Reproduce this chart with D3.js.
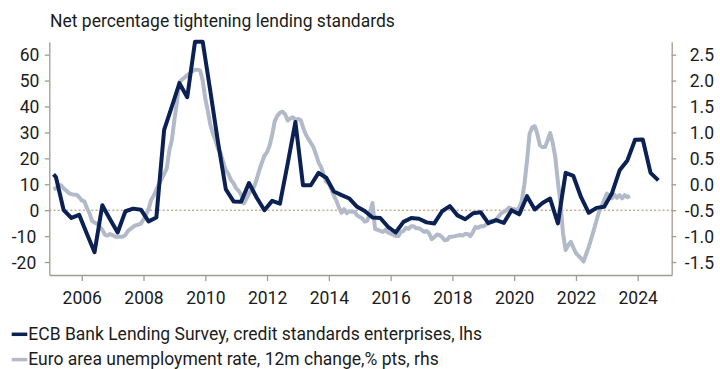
<!DOCTYPE html>
<html>
<head>
<meta charset="utf-8">
<script src="https://cdn.jsdelivr.net/npm/d3@7"></script>
<style>
  html, body { margin: 0; padding: 0; background: #ffffff; }
  svg { display: block; font-family: Roboto, "Liberation Sans", Arial, sans-serif; }
</style>
</head>
<body>
<svg id="chart" width="720" height="369"></svg>
<script>
// ---- data -------------------------------------------------------------
const subtitle = "Net percentage tightening lending standards";

// ECB Bank Lending Survey, credit standards for enterprises (net %, quarterly)
const blsMonths = [
  "2005-02","2005-03","2005-06","2005-09","2005-12",
  "2006-03","2006-06","2006-09","2006-12",
  "2007-03","2007-06","2007-09","2007-12",
  "2008-03","2008-06","2008-09","2008-12",
  "2009-03","2009-06","2009-09","2009-12",
  "2010-03","2010-06","2010-09","2010-12",
  "2011-03","2011-06","2011-09","2011-12",
  "2012-03","2012-06","2012-09","2012-12",
  "2013-03","2013-06","2013-09","2013-12",
  "2014-03","2014-06","2014-09","2014-12",
  "2015-03","2015-06","2015-09","2015-12",
  "2016-03","2016-06","2016-09","2016-12",
  "2017-03","2017-06","2017-09","2017-12",
  "2018-03","2018-06","2018-09","2018-12",
  "2019-03","2019-06","2019-09","2019-12",
  "2020-03","2020-06","2020-09","2020-12",
  "2021-03","2021-06","2021-09","2021-12",
  "2022-03","2022-06","2022-09","2022-12",
  "2023-03","2023-06","2023-09","2023-12",
  "2024-03","2024-06","2024-09"
];
const blsValues = [
  13.8, 12.8, 0, -3, -1.8,
  -9, -16.2, 1.9, -3.5,
  -8.6, -0.4, 0.6, 0.2,
  -4.3, -2.8, 31, 40,
  49, 43.6, 65, 65,
  46, 26, 8, 3.4,
  3.3, 10.5, 4.8, 0,
  3.6, 2.5, 18, 34,
  9.6, 9.6, 14.4, 12.5,
  7.2, 5.8, 4.5, 1.3,
  -0.3, -2.8, -3, -6.4,
  -8.6, -4.5, -3, -3.3,
  -4.7, -5.1, -0.4, 1.6,
  -2, -3.5, -1.2, -0.8,
  -5, -3.8, -4.9, 0,
  -1.6, 5.4, 0.3, 2.8,
  4.5, -5.1, 14.4, 13.2,
  5.1, -1, 0.9, 1.3,
  6.4, 15.4, 19.2, 27.2,
  27.3, 14.4, 11.5
];

// Euro area unemployment rate, 12-month change in % points (monthly, from Feb 2005)
const unempStartMonth = "2005-02";
const unempValues = [
  /* 2005 */ -0.10, -0.08, -0.03, -0.02, -0.08, -0.12, -0.17, -0.19, -0.20, -0.20, -0.25,
  /* 2006 */ -0.31, -0.33, -0.45, -0.55, -0.70, -0.74, -0.76, -0.82, -0.88, -0.97, -0.99, -0.96,
  /* 2007 */ -0.98, -1.01, -1.01, -1.01, -1.01, -0.98, -0.90, -0.86, -0.82, -0.79, -0.78, -0.76,
  /* 2008 */ -0.68, -0.58, -0.48, -0.30, -0.22, -0.10, 0.00, 0.10, 0.20, 0.30, 0.65, 0.85,
  /* 2009 */ 1.25, 1.60, 1.97, 2.02, 2.06, 2.10, 2.14, 2.18, 2.21, 2.21, 2.19, 2.00,
  /* 2010 */ 1.65, 1.40, 1.15, 0.98, 0.85, 0.68, 0.60, 0.42, 0.27, 0.20, 0.08, 0.02,
  /* 2011 */ -0.08, -0.13, -0.20, -0.37, -0.28, -0.18, -0.10, -0.05, 0.10, 0.27, 0.42, 0.55,
  /* 2012 */ 0.62, 0.75, 0.95, 1.22, 1.32, 1.38, 1.40, 1.35, 1.23, 1.27, 1.29, 1.24,
  /* 2013 */ 1.26, 1.24, 1.10, 0.97, 0.88, 0.80, 0.72, 0.58, 0.42, 0.33, 0.18, 0.05,
  /* 2014 */ 0.01, -0.10, -0.22, -0.32, -0.45, -0.55, -0.48, -0.56, -0.52, -0.53, -0.53, -0.60,
  /* 2015 */ -0.63, -0.66, -0.72, -0.70, -0.55, -0.36, -0.86, -0.88, -0.90, -0.92, -0.88, -0.93,
  /* 2016 */ -0.95, -0.97, -1.00, -1.00, -0.92, -0.90, -0.84, -0.86, -0.81, -0.81, -0.85, -0.85,
  /* 2017 */ -0.88, -0.92, -0.90, -0.95, -1.06, -1.02, -0.97, -0.98, -1.02, -1.08, -1.07, -1.01,
  /* 2018 */ -1.01, -1.00, -0.99, -0.98, -0.99, -0.96, -0.96, -1.00, -0.92, -0.82, -0.84, -0.81,
  /* 2019 */ -0.81, -0.78, -0.74, -0.71, -0.72, -0.68, -0.62, -0.56, -0.53, -0.50, -0.45, -0.47,
  /* 2020 */ -0.48, -0.50, -0.45, -0.31, 0.00, 0.45, 0.97, 1.10, 1.12, 0.97, 0.75, 0.72,
  /* 2021 */ 0.72, 0.85, 0.99, 0.80, 0.53, 0.05, -0.35, -0.95, -1.27, -1.18, -1.11, -1.22,
  /* 2022 */ -1.33, -1.38, -1.43, -1.49, -1.35, -1.21, -1.05, -0.88, -0.70, -0.53, -0.42, -0.30,
  /* 2023 */ -0.18, -0.22, -0.27, -0.20, -0.26, -0.21, -0.27, -0.21, -0.25, -0.22
];

const leftTicks  = [60, 50, 40, 30, 20, 10, 0, -10, -20];
const rightTicks = [2.5, 2.0, 1.5, 1.0, 0.5, 0.0, -0.5, -1.0, -1.5];
const yearTicks  = [2006, 2008, 2010, 2012, 2014, 2016, 2018, 2020, 2022, 2024];

const legendLabels = [
  "ECB Bank Lending Survey, credit standards enterprises, lhs",
  "Euro area unemployment rate, 12m change,% pts, rhs"
];

// ---- styling ----------------------------------------------------------
const NAVY = "#0b2154";
const GREY = "#b2bac9";
const AXIS = "#a39b90";
const TEXT = "#1c1c1c";
const FONT_SIZE = 17.5;

// ---- scales -----------------------------------------------------------
const parseMonth = d3.timeParse("%Y-%m");
const plot = { left: 49.3, right: 671.7, top: 41.7, bottom: 275 };

const x = d3.scaleTime()
  .domain([new Date(2004, 11, 13), new Date(2025, 1, 6)])
  .range([plot.left, plot.right]);
const yLeft = d3.scaleLinear().domain([-25, 65]).range([plot.bottom, plot.top]);
const yRight = d3.scaleLinear().domain([-1.75, 2.75]).range([plot.bottom, plot.top]);

const blsSeries = blsMonths.map((m, i) => ({ date: parseMonth(m), value: blsValues[i] }));
const unempStart = parseMonth(unempStartMonth);
const unempSeries = unempValues.map((v, i) => ({ date: d3.timeMonth.offset(unempStart, i), value: v }));

const svg = d3.select("#chart");
svg.append("rect").attr("width", 720).attr("height", 369).attr("fill", "#ffffff");

// subtitle
svg.append("text")
  .attr("x", 50).attr("y", 27.3)
  .attr("font-size", FONT_SIZE).attr("fill", TEXT)
  .text(subtitle);

// zero reference line (left-axis 0)
svg.append("line")
  .attr("x1", plot.left).attr("x2", plot.right)
  .attr("y1", yLeft(0)).attr("y2", yLeft(0))
  .attr("stroke", "#a7865f").attr("stroke-width", 1)
  .attr("stroke-dasharray", "2,2.2");

// ---- axes -------------------------------------------------------------
function styleAxis(g) {
  g.selectAll(".domain").attr("stroke", AXIS).attr("stroke-width", 1.3);
  g.selectAll(".tick line").attr("stroke", AXIS).attr("stroke-width", 1.3);
  g.selectAll(".tick text").attr("fill", TEXT).attr("font-size", FONT_SIZE)
    .attr("font-family", "Roboto, 'Liberation Sans', Arial, sans-serif");
}

const gLeft = svg.append("g")
  .attr("transform", `translate(${plot.left},0)`)
  .call(d3.axisLeft(yLeft).tickValues(leftTicks).tickSize(4.5).tickSizeOuter(0)
    .tickFormat(d => String(d)))
  .call(styleAxis);
gLeft.selectAll(".tick text")
  .attr("x", d => d < 0 ? -13 : -10).attr("dy", "0.36em");

const gRight = svg.append("g")
  .attr("transform", `translate(${plot.right},0)`)
  .call(d3.axisRight(yRight).tickValues(rightTicks).tickSize(4.5).tickSizeOuter(0)
    .tickFormat(d => d.toFixed(1)))
  .call(styleAxis);
gRight.selectAll(".tick text")
  .attr("text-anchor", "end").attr("x", 714 - plot.right).attr("dy", "0.36em");

const gBottom = svg.append("g")
  .attr("transform", `translate(0,${plot.bottom})`)
  .call(d3.axisBottom(x).tickValues(yearTicks.map(yr => new Date(yr, 0, 1)))
    .tickSize(6).tickSizeOuter(0).tickFormat(d3.timeFormat("%Y")))
  .call(styleAxis);
gBottom.selectAll(".tick text").attr("y", 29.3).attr("dy", 0);

// ---- lines ------------------------------------------------------------
const lineLeft = d3.line().x(d => x(d.date)).y(d => yLeft(d.value));
const lineRight = d3.line().x(d => x(d.date)).y(d => yRight(d.value));

svg.append("path").datum(unempSeries)
  .attr("d", lineRight)
  .attr("fill", "none").attr("stroke", GREY).attr("stroke-width", 4)
  .attr("stroke-linejoin", "round");

svg.append("path").datum(blsSeries)
  .attr("d", lineLeft)
  .attr("fill", "none").attr("stroke", NAVY).attr("stroke-width", 4)
  .attr("stroke-linejoin", "round");

// ---- legend -----------------------------------------------------------
const legend = svg.append("g");
const legendRows = [
  { label: legendLabels[0], color: NAVY, y: 339.5 },
  { label: legendLabels[1], color: GREY, y: 364.8 }
];
legendRows.forEach(r => {
  legend.append("line")
    .attr("x1", 11.7).attr("x2", 27.3)
    .attr("y1", r.y - 5.2).attr("y2", r.y - 5.2)
    .attr("stroke", r.color).attr("stroke-width", 3.5);
  legend.append("text")
    .attr("x", 28.3).attr("y", r.y)
    .attr("font-size", FONT_SIZE).attr("fill", TEXT)
    .text(r.label);
});
</script>
</body>
</html>
